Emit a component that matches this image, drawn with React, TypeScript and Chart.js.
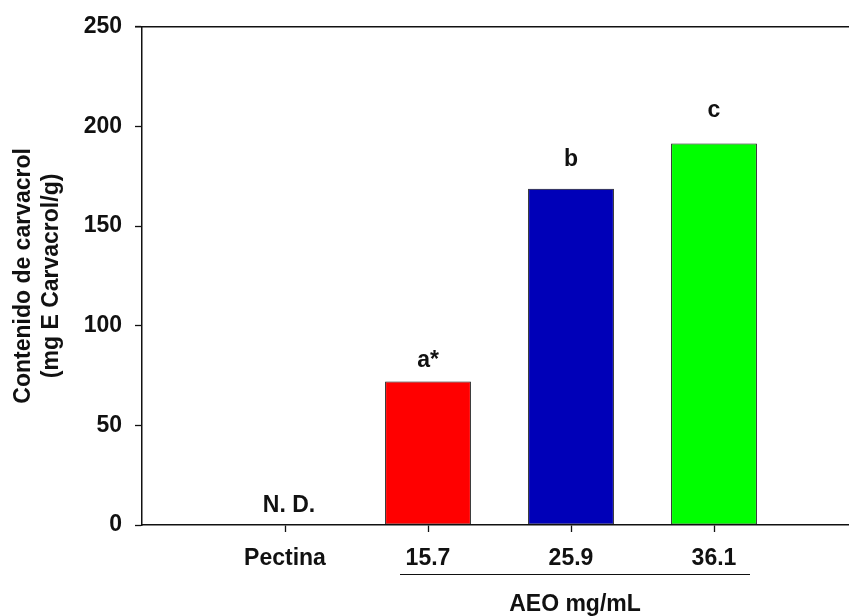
import React, { useEffect, useRef } from "react";
import { Chart, registerables } from "chart.js";

Chart.register(...registerables);

const categories = ["Pectina", "15.7", "25.9", "36.1"];
const values: (number | null)[] = [null, 72.0, 168.7, 191.5];
const letters = ["N. D.", "a*", "b", "c"];
const letterAnchors = [6.6, 79.4, 180.2, 204.6];
const barColors = ["#ffffff", "#ff0000", "#0000b8", "#00ff00"];
const yTicks = [0, 50, 100, 150, 200, 250];
const yTitleLines = ["Contenido de carvacrol", "(mg E Carvacrol/g)"];
const xGroupTitle = "AEO mg/mL";

const FONT_FAMILY = '"Liberation Sans", Arial, Helvetica, sans-serif';
const FONT_SIZE = 23;
const INK = "#111111";

export default function App() {
  const ref = useRef<HTMLCanvasElement | null>(null);

  useEffect(() => {
    if (!ref.current) return;
    const labels = ["", ...categories, ""];
    const data = [null, ...values, null];

    const annotate = {
      id: "annotate",
      afterDraw(chart: any) {
        const { ctx, chartArea, scales } = chart;
        const x = scales.x;
        const y = scales.y;
        ctx.save();
        // top frame line
        ctx.strokeStyle = INK;
        ctx.lineWidth = 1.5;
        ctx.beginPath();
        ctx.moveTo(chartArea.left - 7, chartArea.top);
        ctx.lineTo(chartArea.right, chartArea.top);
        ctx.stroke();

        // letters above bars
        ctx.fillStyle = INK;
        ctx.font = `bold ${FONT_SIZE}px ${FONT_FAMILY}`;
        ctx.textAlign = "center";
        ctx.textBaseline = "alphabetic";
        letters.forEach((t, i) => {
          const dx = i === 0 ? 4 : 0;
          ctx.fillText(t, x.getPixelForValue(i + 1) + dx, y.getPixelForValue(letterAnchors[i]));
        });

        // group underline and title
        const x0 = x.getPixelForValue(2) - 28;
        const x1 = x.getPixelForValue(4) + 36;
        ctx.lineWidth = 1.2;
        ctx.beginPath();
        ctx.moveTo(x0, 574.5);
        ctx.lineTo(x1, 574.5);
        ctx.stroke();
        ctx.fillText(xGroupTitle, (x0 + x1) / 2, 611);

        // y title
        const cy = (chartArea.top + chartArea.bottom) / 2;
        ctx.translate(0, cy);
        ctx.rotate(-Math.PI / 2);
        ctx.textBaseline = "middle";
        ctx.fillText(yTitleLines[0], 0, 24);
        ctx.fillText(yTitleLines[1], 0, 52);
        ctx.restore();
      },
    };

    const chart = new Chart(ref.current, {
      type: "bar",
      data: {
        labels,
        datasets: [
          {
            data,
            backgroundColor: ["#ffffff", ...barColors, "#ffffff"],
            borderColor: INK,
            borderWidth: 1,
            borderSkipped: false,
            categoryPercentage: 1,
            barPercentage: 0.6,
          },
        ],
      },
      options: {
        responsive: false,
        animation: false,
        layout: { padding: { top: 21, right: 8, left: 0, bottom: 0 } },
        plugins: { legend: { display: false }, tooltip: { enabled: false } },
        scales: {
          x: {
            offset: false,
            grid: {
              offset: false,
              drawOnChartArea: false,
              drawTicks: true,
              tickLength: 7,
              tickWidth: 1.3,
              tickColor: (c: any) =>
                c.index === 0 || c.index === labels.length - 1 ? "rgba(0,0,0,0)" : INK,
            },
            border: { display: true, color: INK, width: 1.5 },
            ticks: {
              color: INK,
              padding: 13,
              font: { family: FONT_FAMILY, size: FONT_SIZE, weight: "bold" },
              maxRotation: 0,
              autoSkip: false,
            },
            afterFit: (s: any) => {
              s.height = 91;
            },
          },
          y: {
            min: 0,
            max: 250,
            afterBuildTicks: (s: any) => {
              s.ticks = yTicks.map((v) => ({ value: v }));
            },
            grid: {
              drawOnChartArea: false,
              drawTicks: true,
              tickLength: 7,
              tickWidth: 1.3,
              tickColor: INK,
            },
            border: { display: true, color: INK, width: 1.5 },
            ticks: {
              color: INK,
              padding: 13,
              font: { family: FONT_FAMILY, size: FONT_SIZE, weight: "bold" },
            },
            afterFit: (s: any) => {
              s.width = 142;
            },
          },
        },
      },
      plugins: [annotate],
    });
    return () => chart.destroy();
  }, []);

  return (
    <div
      style={{
        position: "absolute",
        left: 0,
        top: 0,
        width: 849,
        height: 616,
        overflow: "hidden",
        background: "#fff",
      }}
    >
      <canvas ref={ref} width={870} height={616} style={{ display: "block" }} />
    </div>
  );
}
